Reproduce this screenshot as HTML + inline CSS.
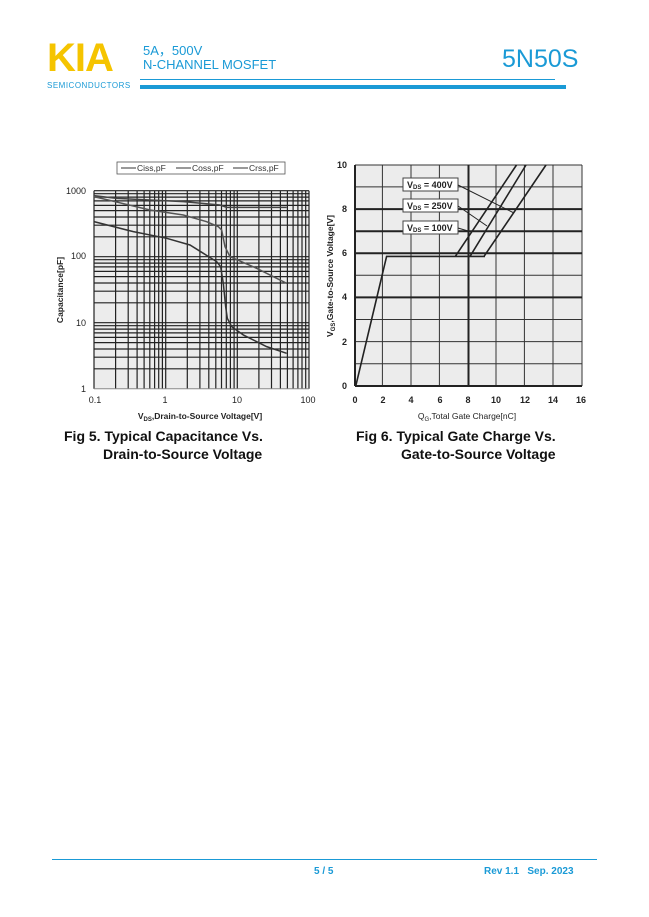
<!DOCTYPE html>
<html><head><meta charset="utf-8"><style>
html,body{margin:0;padding:0;background:#fff;}
body{width:649px;height:917px;position:relative;overflow:hidden;font-family:"Liberation Sans",Arial,sans-serif;}
.a{position:absolute;white-space:nowrap;}
.b{color:#1a9ad6;}
.cap{font-family:"Liberation Sans",sans-serif;font-weight:bold;font-size:14px;color:#111;}
</style></head><body>
<div class="a" style="left:47px;top:36px;font-size:40px;font-weight:bold;color:#f5c400;letter-spacing:-1px;">KIA</div>
<div class="a b" style="left:47px;top:81px;font-size:8px;letter-spacing:0.5px;">SEMICONDUCTORS</div>
<div class="a b" style="left:143px;top:40px;font-size:13px;">5A，500V</div>
<div class="a b" style="left:143px;top:57px;font-size:13px;">N-CHANNEL MOSFET</div>
<div class="a b" style="left:502px;top:45px;font-size:25px;">5N50S</div>
<div class="a" style="left:140px;top:79px;width:415px;height:1px;background:#1a9ad6;"></div>
<div class="a" style="left:140px;top:85px;width:426px;height:4px;background:#1a9ad6;"></div>

<svg class="a" style="left:0;top:0" width="649" height="917" font-family="Liberation Sans, Arial, sans-serif">
<!-- Chart 1 -->
<rect x="94" y="190.7" width="215" height="198" fill="#ececec"/>
<path stroke="#222" stroke-width="1.2" fill="none" d="M94 190.7V388.7M115.6 190.7V388.7M128.2 190.7V388.7M137.1 190.7V388.7M144.1 190.7V388.7M149.8 190.7V388.7M154.6 190.7V388.7M158.7 190.7V388.7M162.4 190.7V388.7M165.7 190.7V388.7M187.3 190.7V388.7M199.9 190.7V388.7M208.8 190.7V388.7M215.8 190.7V388.7M221.5 190.7V388.7M226.3 190.7V388.7M230.4 190.7V388.7M234.1 190.7V388.7M237.3 190.7V388.7M258.9 190.7V388.7M271.5 190.7V388.7M280.4 190.7V388.7M287.4 190.7V388.7M293.1 190.7V388.7M297.9 190.7V388.7M302 190.7V388.7M305.7 190.7V388.7M309 190.7V388.7
M94 368.8H309M94 357.2H309M94 349H309M94 342.6H309M94 337.4H309M94 332.9H309M94 329.1H309M94 325.7H309M94 322.7H309M94 302.8H309M94 291.2H309M94 283H309M94 276.6H309M94 271.4H309M94 266.9H309M94 263.1H309M94 259.7H309M94 256.7H309M94 236.8H309M94 225.2H309M94 217H309M94 210.6H309M94 205.4H309M94 200.9H309M94 197.1H309M94 193.7H309M94 190.7H309"/>
<path stroke="#888" stroke-width="1" fill="none" d="M94 388.7H309"/>
<g transform="translate(50,150) scale(0.3333)" fill="none" stroke-width="4.5">
<path stroke="#444" d="M132 137L200 145L400 155L510 165L530 172L710 172"/>
<path stroke="#555" d="M132 140L300 180L400 195L470 215L505 230L515 240L525 290L540 320L620 355L710 400"/>
<path stroke="#333" d="M132 215L250 245L350 265L420 285L460 310L500 335L512 350L520 400L527 470L532 505L545 530L580 555L650 590L710 610"/>
</g>
<rect x="117" y="162" width="168" height="12" fill="#fff" stroke="#555" stroke-width="0.8"/>
<g font-size="8.5" fill="#333">
<line x1="121" y1="168" x2="136" y2="168" stroke="#333"/><text x="137" y="171">Ciss,pF</text>
<line x1="176" y1="168" x2="191" y2="168" stroke="#333"/><text x="192" y="171">Coss,pF</text>
<line x1="233" y1="168" x2="248" y2="168" stroke="#333"/><text x="249" y="171">Crss,pF</text>
</g>
<g font-size="9" fill="#222" text-anchor="end">
<text x="86" y="194">1000</text><text x="86" y="259">100</text><text x="86" y="326">10</text><text x="86" y="392">1</text>
</g>
<g font-size="9" fill="#222" text-anchor="middle">
<text x="95" y="403">0.1</text><text x="165" y="403">1</text><text x="237" y="403">10</text><text x="308" y="403">100</text>
</g>
<text x="200" y="419" font-size="8.5" font-weight="bold" fill="#222" text-anchor="middle">V<tspan font-size="6" dy="2">DS</tspan><tspan dy="-2">,Drain-to-Source Voltage[V]</tspan></text>
<text transform="translate(63,290) rotate(-90)" font-size="8.5" font-weight="bold" fill="#222" text-anchor="middle">Capacitance[pF]</text>

<!-- Chart 2 -->
<rect x="355" y="165" width="227" height="221" fill="#ececec"/>
<path stroke="#333" stroke-width="1" fill="none" d="M355 186.9H582M355 253.2H582M355 275.3H582M355 319.5H582M355 341.6H582M355 363.7H582M382.4 165V386M411 165V386M439.4 165V386M496 165V386M524.4 165V386M553 165V386M582 165V386M355 165H582"/>
<path stroke="#222" stroke-width="2" fill="none" d="M355 209.1H582M355 231.2H582M355 253.2H582M355 297.4H582M468.5 165V386M355 165V386M355 386H582"/>
<path stroke="#222" stroke-width="1.6" fill="none" d="M356 385L386.6 256.4L485 256.4M455.3 256.4L516.5 165M470 256.4L526 165M484 256.4L546 165"/>
<g font-size="9" font-weight="bold" fill="#222">
<rect x="403" y="178" width="55" height="13" fill="#fff" stroke="#444"/><text x="407" y="188">V<tspan font-size="6" dy="1">DS</tspan><tspan dy="-1"> = 400V</tspan></text>
<rect x="403" y="199" width="55" height="13" fill="#fff" stroke="#444"/><text x="407" y="209">V<tspan font-size="6" dy="1">DS</tspan><tspan dy="-1"> = 250V</tspan></text>
<rect x="403" y="221" width="55" height="13" fill="#fff" stroke="#444"/><text x="407" y="231">V<tspan font-size="6" dy="1">DS</tspan><tspan dy="-1"> = 100V</tspan></text>
</g>
<path stroke="#222" stroke-width="1" fill="none" d="M458 185L514 213M458 206L487 226M458 228L468 231"/>
<g font-size="9" font-weight="bold" fill="#222" text-anchor="middle">
<text x="355" y="403">0</text><text x="383" y="403">2</text><text x="411" y="403">4</text><text x="440" y="403">6</text><text x="468" y="403">8</text><text x="496" y="403">10</text><text x="525" y="403">12</text><text x="553" y="403">14</text><text x="581" y="403">16</text>
</g>
<g font-size="9" font-weight="bold" fill="#222" text-anchor="end">
<text x="347" y="168">10</text><text x="347" y="212">8</text><text x="347" y="256">6</text><text x="347" y="300">4</text><text x="347" y="345">2</text><text x="347" y="389">0</text>
</g>
<text x="467" y="419" font-size="8.5" fill="#222" text-anchor="middle">Q<tspan font-size="6" dy="2">G</tspan><tspan dy="-2">,Total Gate Charge[nC]</tspan></text>
<text transform="translate(333,276) rotate(-90)" font-size="8.5" font-weight="bold" fill="#222" text-anchor="middle">V<tspan font-size="6" dy="2">GS</tspan><tspan dy="-2">,Gate-to-Source Voltage[V]</tspan></text>
</svg>

<div class="a cap" style="left:64px;top:428px;">Fig 5. Typical Capacitance Vs.</div>
<div class="a cap" style="left:103px;top:446px;">Drain-to-Source Voltage</div>
<div class="a cap" style="left:356px;top:428px;">Fig 6. Typical Gate Charge Vs.</div>
<div class="a cap" style="left:401px;top:446px;">Gate-to-Source Voltage</div>

<div class="a" style="left:52px;top:859px;width:545px;height:1px;background:#1a9ad6;"></div>
<div class="a b" style="left:314px;top:866px;font-size:10px;font-weight:bold;">5 / 5</div>
<div class="a b" style="left:484px;top:866px;font-size:10px;font-weight:bold;">Rev 1.1&nbsp;&nbsp; Sep. 2023</div>
</body></html>
